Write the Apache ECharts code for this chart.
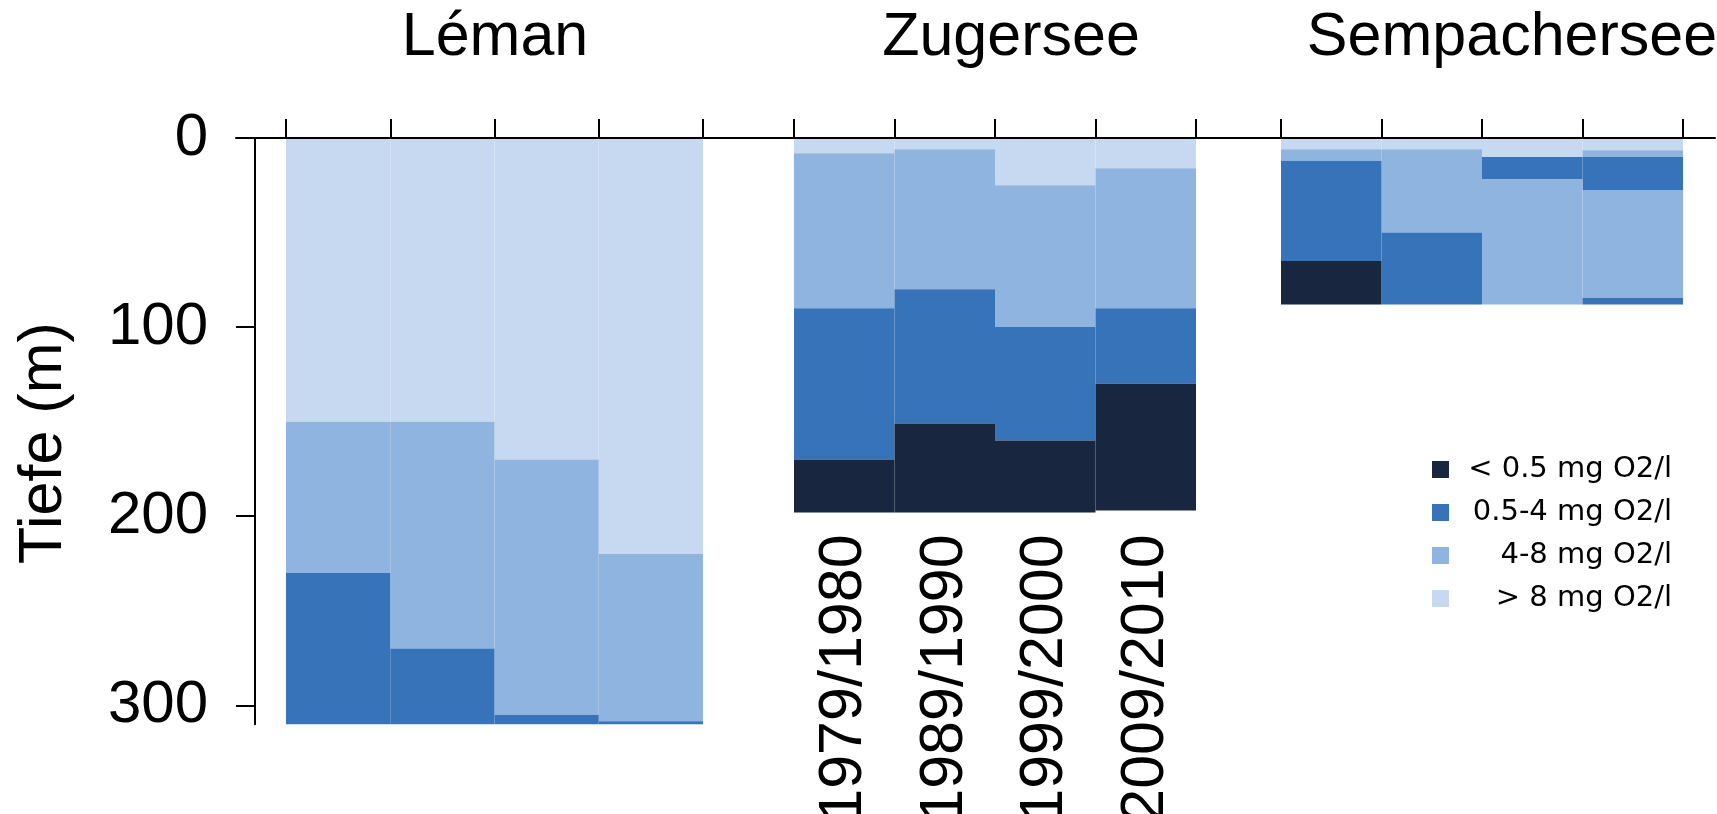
<!DOCTYPE html>
<html>
<head>
<meta charset="utf-8">
<script src="https://cdn.jsdelivr.net/npm/echarts@6/dist/echarts.min.js"></script>
<style>
html,body{margin:0;padding:0;background:#fff;}
#chart{width:1717px;height:814px;}
</style>
</head>
<body>
<div id="chart"></div>
<script>
// ---- data ----
const years = ['1979/1980', '1989/1990', '1999/2000', '2009/2010'];
const lakes = ['Léman', 'Zugersee', 'Sempachersee'];
const classes = ['< 0.5 mg O2/l', '0.5-4 mg O2/l', '4-8 mg O2/l', '> 8 mg O2/l'];
const depthTicks = [0, 100, 200, 300];
const lakeDepth = [310, 198, 88];

// layer thicknesses (m), from the surface downward
const lemanOver8   = [150, 150, 170, 220];
const leman4to8    = [80, 120, 135, 88.5];
const leman05to4   = [80, 40, 5, 1.5];
const lemanUnder05 = [0, 0, 0, 0];

const zugOver8   = [8, 6, 25, 16];
const zug4to8    = [82, 74, 75, 74];
const zug05to4   = [80, 71, 60, 40];
const zugUnder05 = [28, 47, 38, 67];

const sempOver8       = [6, 6, 10, 6.5];
const semp4to8Upper   = [6, 44, 0, 3.5];
const semp05to4Upper  = [53, 38, 12, 17.5];
const semp4to8Lower   = [0, 0, 66, 57];
const semp05to4Lower  = [0, 0, 0, 3.5];
const sempUnder05     = [23, 0, 0, 0];

// ---- style ----
const colors = {
  '< 0.5 mg O2/l': '#18263f',
  '0.5-4 mg O2/l': '#3773b9',
  '4-8 mg O2/l': '#8fb4df',
  '> 8 mg O2/l': '#c6d9f0'
};
const FONT = "'Liberation Sans', Arial, Helvetica, sans-serif";
const pxPerM = 1.891;
const gridTop = 138;
const gridLefts = [286, 794, 1281];
const gridWidths = [417, 402, 402];
const titleX = [495, 1011, 1512];

const chart = echarts.init(document.getElementById('chart'), null, {renderer: 'canvas'});

const topAxis = (gi) => ({
  type: 'category', gridIndex: gi, data: years, position: 'top', z: 10,
  axisLine: {show: true, onZero: false, lineStyle: {color: '#000', width: 2}},
  axisTick: {show: true, length: 19, inside: false, lineStyle: {color: '#000', width: 2}},
  axisLabel: {show: false}, splitLine: {show: false}
});

function bar(name, data, xi, yi, stack) {
  return {
    type: 'bar', name: name, data: data, xAxisIndex: xi, yAxisIndex: yi, stack: stack,
    barCategoryGap: '0%', itemStyle: {color: colors[name]}, emphasis: {disabled: true}
  };
}

const series = [
  bar(classes[3], lemanOver8, 0, 0, 'L'),
  bar(classes[2], leman4to8, 0, 0, 'L'),
  bar(classes[1], leman05to4, 0, 0, 'L'),
  bar(classes[0], lemanUnder05, 0, 0, 'L'),

  bar(classes[3], zugOver8, 1, 1, 'Z'),
  bar(classes[2], zug4to8, 1, 1, 'Z'),
  bar(classes[1], zug05to4, 1, 1, 'Z'),
  bar(classes[0], zugUnder05, 1, 1, 'Z'),

  bar(classes[3], sempOver8, 3, 2, 'S'),
  bar(classes[2], semp4to8Upper, 3, 2, 'S'),
  bar(classes[1], semp05to4Upper, 3, 2, 'S'),
  bar(classes[2], semp4to8Lower, 3, 2, 'S'),
  bar(classes[1], semp05to4Lower, 3, 2, 'S'),
  bar(classes[0], sempUnder05, 3, 2, 'S')
];

const gridBase = {outerBoundsMode: 'none', containLabel: false};

const option = {
  animation: false,
  backgroundColor: '#fff',
  textStyle: {fontFamily: FONT},
  grid: [
    Object.assign({left: gridLefts[0], top: gridTop, width: gridWidths[0], height: lakeDepth[0] * pxPerM}, gridBase),
    Object.assign({left: gridLefts[1], top: gridTop, width: gridWidths[1], height: lakeDepth[1] * pxPerM}, gridBase),
    Object.assign({left: gridLefts[2], top: gridTop, width: gridWidths[2], height: lakeDepth[2] * pxPerM}, gridBase),
    Object.assign({left: 236, top: gridTop, width: 1479, height: 10}, gridBase)
  ],
  xAxis: [
    topAxis(0),
    topAxis(1),
    {
      type: 'category', gridIndex: 1, data: years, position: 'bottom',
      axisLine: {show: false, onZero: false}, axisTick: {show: false}, splitLine: {show: false},
      axisLabel: {show: true, interval: 0, rotate: 90, margin: 22, color: '#000',
                  fontSize: 61, fontFamily: FONT}
    },
    topAxis(2),
    {
      type: 'value', gridIndex: 3, position: 'top', min: 0, max: 1, z: 10,
      axisLine: {show: true, onZero: false, lineStyle: {color: '#000', width: 2}},
      axisTick: {show: false}, axisLabel: {show: false}, splitLine: {show: false}
    }
  ],
  yAxis: [
    {
      type: 'value', gridIndex: 0, inverse: true, min: 0, max: lakeDepth[0], interval: 100,
      offset: gridLefts[0] - 255, position: 'left',
      name: 'Tiefe (m)', nameLocation: 'middle', nameRotate: 90, nameGap: 180,
      nameTextStyle: {fontSize: 61, color: '#000', fontFamily: FONT, padding: [0, 24, 0, 0]},
      axisLine: {show: true, onZero: false, lineStyle: {color: '#000', width: 2}},
      axisTick: {show: true, length: 19, inside: false, customValues: depthTicks,
                 lineStyle: {color: '#000', width: 2}},
      axisLabel: {show: true, customValues: depthTicks, margin: 47, color: '#000',
                  fontSize: 60, fontFamily: FONT},
      splitLine: {show: false}
    },
    {type: 'value', gridIndex: 1, inverse: true, min: 0, max: lakeDepth[1], show: false, splitLine: {show: false}},
    {type: 'value', gridIndex: 2, inverse: true, min: 0, max: lakeDepth[2], show: false, splitLine: {show: false}},
    {type: 'value', gridIndex: 3, min: 0, max: 1, show: false, splitLine: {show: false}}
  ],
  legend: {
    data: classes, orient: 'vertical', left: 1432, top: 455, padding: 0,
    icon: 'rect', itemWidth: 17, itemHeight: 17, itemGap: 14,
    selectedMode: false,
    formatter: (n) => '{t|' + n + '}',
    textStyle: {
      color: '#000',
      rich: {t: {width: 218, align: 'right', fontSize: 29, lineHeight: 28,
                 fontFamily: "'DejaVu Sans', " + FONT, color: '#000'}}
    }
  },
  graphic: lakes.map((name, i) => ({
    type: 'text', x: titleX[i], y: 38, silent: true,
    style: {text: name, fill: '#000', font: '61px ' + FONT,
            align: 'center', verticalAlign: 'middle',
            textAlign: 'center', textVerticalAlign: 'middle'}
  })),
  series: series
};

chart.setOption(option);
</script>
</body>
</html>
